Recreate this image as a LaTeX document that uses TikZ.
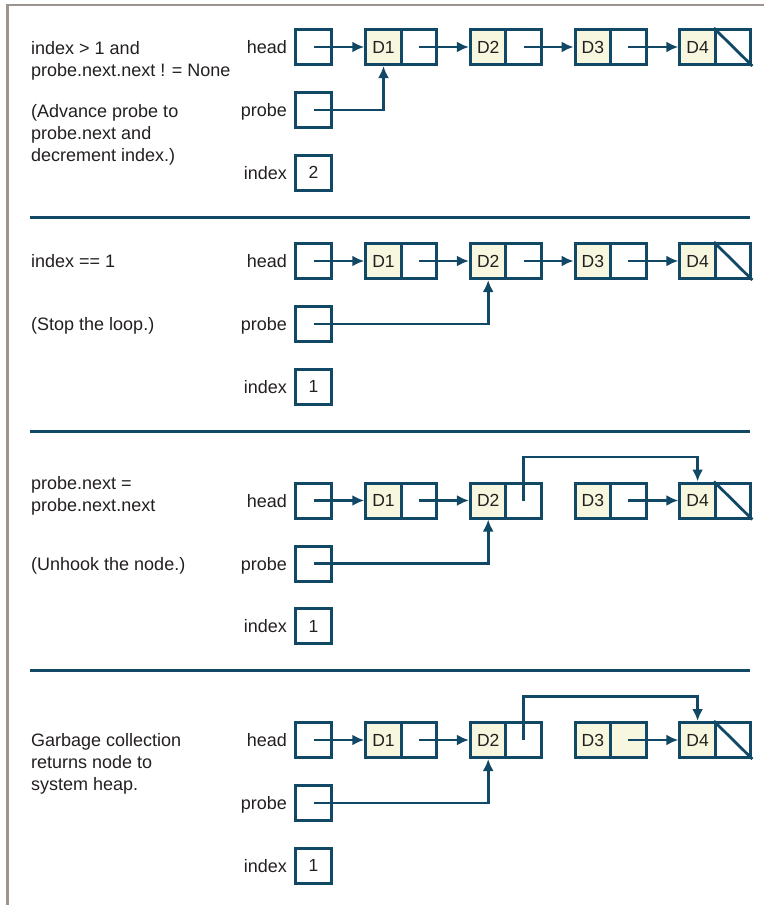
\documentclass[tikz,border=0pt]{standalone}
\usepackage{fontspec}
\setmainfont{Liberation Sans}
\usetikzlibrary{arrows.meta,calc}
\definecolor{lc}{RGB}{16,72,102}
\definecolor{dfill}{RGB}{246,247,222}
\definecolor{framec}{RGB}{158,148,143}
\definecolor{txt}{RGB}{35,31,32}
\tikzset{
  lbl/.style={inner sep=0pt, font=\fontsize{18}{22}\selectfont, text=txt},
  desc/.style={lbl, anchor=base west},
  rlbl/.style={lbl, anchor=base east},
  cell/.style={draw=lc, line width=3pt, minimum width=35.5pt, minimum height=35pt,
    inner sep=0pt, font=\fontsize{17.5}{20}\selectfont, text=txt},
  dcell/.style={cell, fill=dfill},
  link/.style={draw=lc, line width=2.8pt, -{Latex[length=12pt,width=11pt]}},
  sepline/.style={draw=lc, line width=3pt},
  frameline/.style={draw=framec, line width=2.6pt},
}
% #1 prefix, #2 row y, #3 index value, #4 extra style for D3 pointer cell
\newcommand\mkpanel[4]{%
  \node[rlbl] (#1-lh) at (287,{#2+6.5}) {head};
  \node[rlbl] (#1-lp) at (287,{#2+69.5}) {probe};
  \node[rlbl] (#1-li) at (287,{#2+132}) {index};
  \node[cell] (#1-h) at (313.5,#2) {};
  \node[cell] (#1-pr) at (313.5,{#2+63}) {};
  \node[cell] (#1-ix) at (313.5,{#2+125.5}) {#3};
  \node[dcell] (#1-d1) at (383.5,#2) {D1};
  \node[cell]  (#1-p1) at (419,#2) {};
  \node[dcell] (#1-d2) at (488.2,#2) {D2};
  \node[cell]  (#1-p2) at (523.7,#2) {};
  \node[dcell] (#1-d3) at (592.9,#2) {D3};
  \node[cell,#4] (#1-p3) at (628.4,#2) {};
  \node[dcell] (#1-d4) at (697.6,#2) {D4};
  \node[cell]  (#1-p4) at (733.1,#2) {};
  \draw[link] (#1-h.center) -- (#1-d1.west);
  \draw[link] (#1-p1.center) -- (#1-d2.west);
  \draw[link] (#1-p3.center) -- (#1-d4.west);
  \draw[draw=lc, line width=2.8pt] (#1-p4.north west) -- (#1-p4.south east);
}
\begin{document}
\begin{tikzpicture}[x=1pt,y=-1pt]
\useasboundingbox (0,0) rectangle (764,905);
\draw[frameline] (764,5) -- (7.5,5) -- (7.5,905);

% separators
\coordinate (s1a) at (30,217); \coordinate (s1b) at (750,217);
\coordinate (s2a) at (30,431); \coordinate (s2b) at (750,431);
\coordinate (s3a) at (30,670); \coordinate (s3b) at (750,670);
\draw[sepline] (s1a) -- (s1b);
\draw[sepline] (s2a) -- (s2b);
\draw[sepline] (s3a) -- (s3b);

% panel 1
\mkpanel{a}{47}{2}{}
\draw[link] (a-p2.center) -- (a-d3.west);
\draw[link] (a-pr.center) -| (a-d1.south);
\node[desc] (a-t1) at (31,54) {index > 1 and};
\node[desc] (a-t2) at (31,76) {probe.next.next ! = None};
\node[desc] (a-t3) at (31,117) {(Advance probe to};
\node[desc] (a-t4) at (31,139) {probe.next and};
\node[desc] (a-t5) at (31,161) {decrement index.)};

% panel 2
\mkpanel{b}{261}{1}{}
\draw[link] (b-p2.center) -- (b-d3.west);
\draw[link] (b-pr.center) -| (b-d2.south);
\node[desc] (b-t1) at (31,267.5) {index == 1};
\node[desc] (b-t2) at (31,330.5) {(Stop the loop.)};

% panel 3
\mkpanel{c}{500.5}{1}{}
\draw[link] (c-pr.center) -| (c-d2.south);
\coordinate (c-top) at (0,457);
\draw[link] (c-p2.center) -- (c-p2.center |- c-top) -| (c-d4.north);
\node[desc] (c-t1) at (31,489.5) {probe.next =};
\node[desc] (c-t2) at (31,511.5) {probe.next.next};
\node[desc] (c-t3) at (31,570) {(Unhook the node.)};

% panel 4
\mkpanel{d}{740}{1}{fill=dfill}
\draw[link] (d-pr.center) -| (d-d2.south);
\coordinate (d-top) at (0,696.5);
\draw[link] (d-p2.center) -- (d-p2.center |- d-top) -| (d-d4.north);
\node[desc] (d-t1) at (31,746.5) {Garbage collection};
\node[desc] (d-t2) at (31,768.5) {returns node to};
\node[desc] (d-t3) at (31,790.5) {system heap.};
\end{tikzpicture}
\end{document}
